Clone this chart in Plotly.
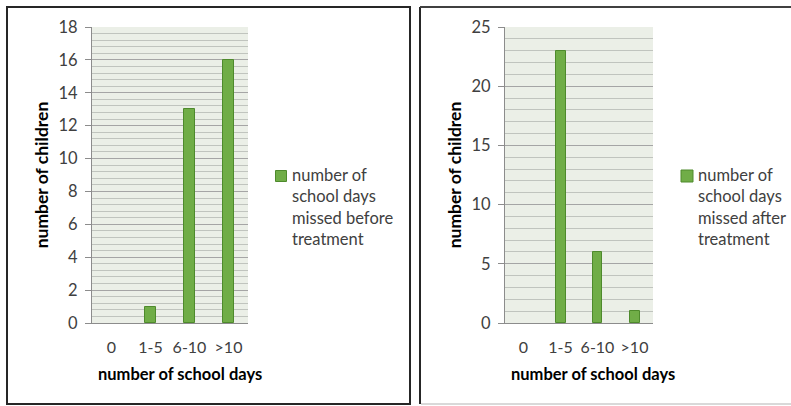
import plotly.graph_objects as go

# Survey of school days missed, before and after treatment
categories = ["0", "1-5", "6-10", ">10"]
missed_before = [0, 1, 13, 16]
missed_after = [0, 23, 6, 1]

before_label = ["number of", "school days", "missed before", "treatment"]
after_label = ["number of", "school days", "missed after", "treatment"]
x_title = "number of school days"
y_title = "number of children"

W, H = 791, 406
FONT = "Lato, 'Open Sans', sans-serif"
GREEN = "#70AD47"
EDGE = "#4E8A2C"
PLOT_BG = "#EBEFE7"
GRID_MAJOR = "#A5A5A5"
GRID_MINOR = "#C0C4BE"
AXIS_LINE = "#8C8C8C"
TEXT = "#404040"


def px(x):
    return x / W


def py(y):
    return 1 - y / H


def bar_marker(values):
    # no outline on empty bars so nothing is drawn for a zero count
    return dict(color=GREEN,
                line=dict(color=EDGE, width=[0 if v == 0 else 1 for v in values]))


fig = go.Figure()

fig.add_trace(go.Bar(
    x=categories, y=missed_before, name=" ".join(before_label),
    xaxis="x", yaxis="y", width=0.26,
    marker=bar_marker(missed_before), showlegend=False,
))
fig.add_trace(go.Bar(
    x=categories, y=missed_after, name=" ".join(after_label),
    xaxis="x2", yaxis="y2", width=0.27,
    marker=bar_marker(missed_after), showlegend=False,
))


def x_axis(domain, anchor):
    return dict(
        domain=domain, anchor=anchor, type="category",
        range=[-0.5, 3.5], showgrid=False, zeroline=False,
        showline=True, linecolor=AXIS_LINE, linewidth=1,
        ticks="", ticklabelstandoff=10, automargin=False,
        tickfont=dict(family=FONT, size=16, color=TEXT),
        fixedrange=True,
    )


def y_axis(domain, anchor, top, major, minor):
    return dict(
        domain=domain, anchor=anchor, range=[0, top],
        dtick=major, tick0=0, showgrid=True, gridcolor=GRID_MAJOR, gridwidth=1,
        minor=dict(dtick=minor, tick0=0, showgrid=True, gridcolor=GRID_MINOR,
                   gridwidth=1, ticks=""),
        zeroline=False, showline=True, linecolor=AXIS_LINE, linewidth=1,
        ticks="outside", ticklen=6, tickcolor=AXIS_LINE,
        ticklabelstandoff=4, automargin=False,
        tickfont=dict(family=FONT, size=16.5, color=TEXT),
        title=dict(text=y_title, standoff=5,
                   font=dict(family=FONT, size=17.5, color="#000000", weight="bold")),
        fixedrange=True,
    )


plot_y = [py(323), py(27)]

fig.update_layout(
    width=W, height=H, autosize=False,
    margin=dict(l=0, r=0, t=0, b=0, pad=0, autoexpand=False),
    paper_bgcolor="white", plot_bgcolor=PLOT_BG,
    bargap=0,
    xaxis=x_axis([px(92), px(248)], "y"),
    yaxis=y_axis(plot_y, "x", 18, 2, 0.4),
    xaxis2=x_axis([px(505), px(653)], "y2"),
    yaxis2=y_axis(plot_y, "x2", 25, 5, 1),
)

# Panel frames
shapes = [
    dict(type="rect", xref="paper", yref="paper",
         x0=px(7), x1=px(410), y0=py(404), y1=py(7),
         line=dict(color="#262626", width=2)),
    dict(type="line", xref="paper", yref="paper",
         x0=px(420), x1=px(420), y0=py(404), y1=py(7),
         line=dict(color="#262626", width=2)),
    dict(type="line", xref="paper", yref="paper",
         x0=px(420), x1=1, y0=py(7), y1=py(7),
         line=dict(color="#404040", width=2)),
    dict(type="line", xref="paper", yref="paper",
         x0=px(421), x1=1, y0=py(404), y1=py(404),
         line=dict(color="#D9D9D9", width=2)),
]

annotations = []

# X-axis titles
for cx in (180, 593):
    annotations.append(dict(
        text=f"<b>{x_title}</b>", xref="paper", yref="paper",
        x=px(cx), y=py(374), xanchor="center", yanchor="middle",
        showarrow=False, font=dict(family=FONT, size=16.5, color="#000000"),
    ))

# Legend keys
for (sx, sy, size), tx, lines in (
    ((281, 176, 11), 291, before_label),
    ((687, 176, 12), 697, after_label),
):
    shapes.append(dict(
        type="rect", xref="paper", yref="paper",
        x0=px(sx - size / 2), x1=px(sx + size / 2),
        y0=py(sy + size / 2), y1=py(sy - size / 2),
        fillcolor=GREEN, line=dict(color=EDGE, width=1),
    ))
    annotations.append(dict(
        text="<br>".join(lines), xref="paper", yref="paper",
        x=px(tx), y=py(164), xanchor="left", yanchor="top", align="left",
        showarrow=False, borderpad=0,
        font=dict(family=FONT, size=16.5, color=TEXT),
    ))

fig.update_layout(shapes=shapes, annotations=annotations)

fig.write_html("out.html")
